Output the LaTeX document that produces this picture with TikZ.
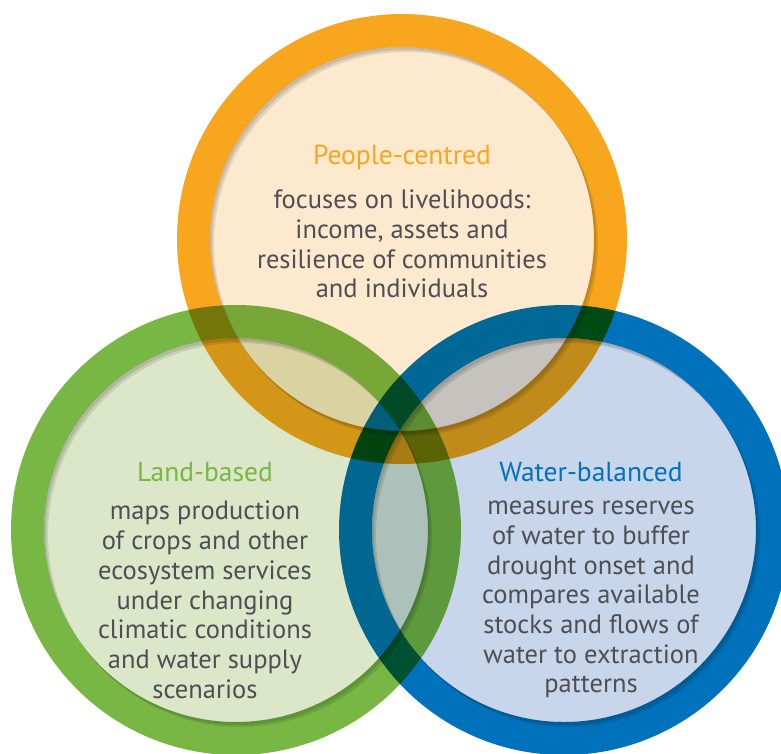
\documentclass[tikz,border=0pt]{standalone}
\usepackage{fontspec}
\setmainfont{PT Sans}
\usepackage{tikz}
\usetikzlibrary{positioning}

\definecolor{peoplering}{RGB}{247,166,30}
\definecolor{peoplefill}{RGB}{253,233,206}
\definecolor{landring}{RGB}{120,183,67}
\definecolor{landfill}{RGB}{219,231,200}
\definecolor{waterring}{RGB}{0,114,188}
\definecolor{waterfill}{RGB}{200,214,236}
\definecolor{bodytext}{RGB}{78,78,84}

\tikzset{
  venn/.style={blend mode=multiply},
  shade edge/.style={black,opacity=0.10,blend mode=multiply,even odd rule},
  headline/.style={inner sep=0pt,font=\fontsize{27.5}{30}\selectfont},
  bodyblock/.style={inner sep=0pt,align=center,text=bodytext,font=\fontsize{26.5}{29.7}\selectfont},
}

\begin{document}
\begin{tikzpicture}[x=1pt,y=-1pt]

  \fill [white] (0,0) rectangle (781,753);
  \useasboundingbox (0,0) rectangle (781,753);
  \clip (0,0) rectangle (781,753);

  \coordinate (Pc) at (402,239);
  \coordinate (Lc) at (236,530);
  \coordinate (Wc) at (564,530);

  % discs and rings, multiplied over each other
  \foreach \c/\fc/\rc in {Pc/peoplefill/peoplering, Lc/landfill/landring, Wc/waterfill/waterring} {
    \fill [venn,\fc] (\c) circle (192pt);
    \fill [venn,\rc,even odd rule] (\c) circle (225pt) (\c) circle (192pt);
    \fill [shade edge] ([shift={(2,3)}]\c) circle (192pt) (\c) circle (192pt);
    \fill [shade edge] ([shift={(4,5)}]\c) circle (192pt) (\c) circle (192pt);
  }

  \node [headline,text=peoplering] (Ptitle) at (402,158) {People-centred};
  \node [bodyblock,below=19pt of Ptitle] (Pbody) {focuses on livelihoods:\\income, assets and\\resilience of communities\\and individuals};

  \node [headline,text=landring] (Ltitle) at (205,472) {Land-based};
  \node [bodyblock,below=19pt of Ltitle] (Lbody) {maps production\\of crops and other\\ecosystem services\\under changing\\climatic conditions\\and water supply\\scenarios};

  \node [headline,text=waterring] (Wtitle) at (591,472) {Water-balanced};
  \node [bodyblock,below=19pt of Wtitle] (Wbody) {measures reserves\\of water to buffer\\drought onset and\\compares available\\stocks and flows of\\water to extraction\\patterns};

\end{tikzpicture}
\end{document}
